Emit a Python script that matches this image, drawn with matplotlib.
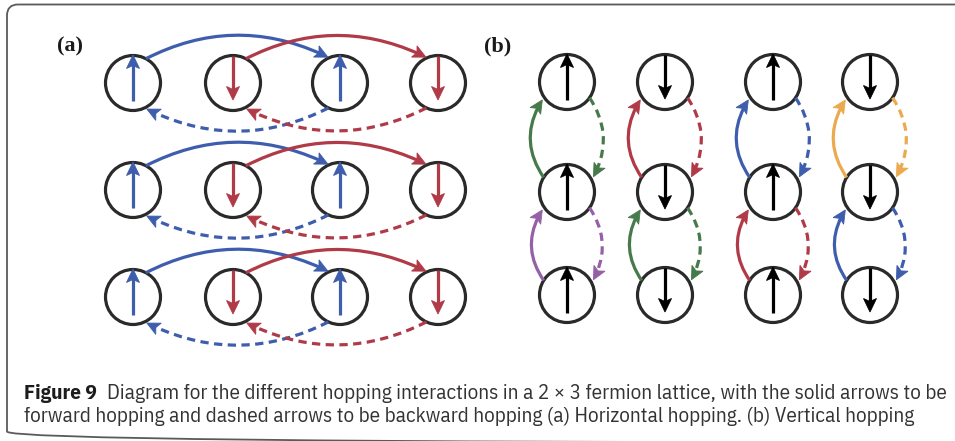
import matplotlib
matplotlib.use('Agg')
import matplotlib.pyplot as plt
from matplotlib.patches import Circle, FancyArrowPatch, FancyBboxPatch, Polygon
from matplotlib import font_manager
import numpy as np

# ---------------- data ----------------
panel_labels = ['(a)', '(b)']
# panel (a): 3 rows x 4 sites, spins per site
a_spins = [['up', 'down', 'up', 'down'],
           ['up', 'down', 'up', 'down'],
           ['up', 'down', 'up', 'down']]
a_forward = [(0, 2), (1, 3)]      # solid: source site -> target site
a_backward = [(2, 0), (3, 1)]     # dashed
# panel (b): 4 columns x 3 sites
b_spins = ['up', 'down', 'up', 'down']
b_pairs = [(0, 1), (1, 2)]        # (upper row, lower row)
b_pair_colors = [['green', 'purple'],
                 ['red', 'green'],
                 ['blue', 'red'],
                 ['orange', 'blue']]

caption_bold = "Figure 9"
caption_line1 = ("Diagram for the different hopping interactions in a 2 \u00d7 3 fermion lattice, "
                 "with the solid arrows to be")
caption_line2 = ("forward hopping and dashed arrows to be backward hopping (a) Horizontal hopping. "
                 "(b) Vertical hopping")

# ---------------- style / layout ----------------
COL = {'blue': '#3E5DAD', 'red': '#B03A47', 'green': '#477A4B',
       'purple': '#9460A6', 'orange': '#EBAA4D', 'black': '#000000'}
spin_color_a = {'up': 'blue', 'down': 'red'}
a_x = [133, 233, 340, 438]
a_y = [83, 190, 297]
b_x = [567, 665, 773, 870]
b_y = [82, 192, 295]
R = 27.5
LW = 2.3
PX = 0.72  # points per pixel at 100 dpi

W, H = 955, 441
fig = plt.figure(figsize=(W / 100, H / 100), dpi=100)
ax = fig.add_axes([0, 0, 1, 1])
ax.set_xlim(0, W)
ax.set_ylim(H, 0)
ax.axis('off')

# outer rounded frame
frame = FancyBboxPatch((7, 4.5), 990, 438, boxstyle='round,pad=0,rounding_size=11',
                       fc='none', ec='#5a5a5a', lw=1.3)
ax.add_patch(frame)


def pt(cx, cy, ang, r):
    a = np.deg2rad(ang)
    return (cx + r * np.cos(a), cy - r * np.sin(a))


def arrow_head(tip, direction, color, length=13, width=12.5, notch=3.0, z=5):
    d = np.asarray(direction, float)
    d = d / np.hypot(*d)
    n = np.array([-d[1], d[0]])
    tip = np.asarray(tip, float)
    back = tip - d * length
    poly = [tip, back + n * width / 2, tip - d * (length - notch), back - n * width / 2]
    ax.add_patch(Polygon(poly, closed=True, fc=color, ec=color, lw=0.6, zorder=z,
                         joinstyle='miter'))


def site(cx, cy, spin, color):
    ax.add_patch(Circle((cx, cy), R, fc='white', ec='#2a2a2a', lw=2.3, zorder=2))
    if spin == 'up':
        p0, p1 = np.array([cx, cy + 18]), np.array([cx, cy - R - 0.5])
    else:
        p0, p1 = np.array([cx, cy - R]), np.array([cx, cy + 17])
    d = p1 - p0
    d = d / np.hypot(*d)
    ax.plot([p0[0], p1[0] - d[0] * 8], [p0[1], p1[1] - d[1] * 8], color=color, lw=LW,
            solid_capstyle='butt', zorder=3)
    arrow_head(p1, d, color, length=13.5, width=13, notch=3.0, z=3)


def hop(p0, p1, rad, color, dashed):
    p0 = np.asarray(p0, float)
    p1 = np.asarray(p1, float)
    m = (p0 + p1) / 2
    dx, dy = p1 - p0
    # arc3 control point (display space has y flipped relative to data)
    c = np.array([m[0] - rad * dy, m[1] + rad * dx])
    ls = (0, (2.6, 1.7)) if dashed else '-'
    ax.add_patch(FancyArrowPatch(tuple(p0), tuple(p1), connectionstyle=f'arc3,rad={rad}',
                                 arrowstyle='-', color=color, lw=LW, linestyle=ls,
                                 shrinkA=0, shrinkB=8 * PX, zorder=4, capstyle='butt'))
    arrow_head(p1, p1 - c, color)


# ---- panel (a) ----
for ri, row in enumerate(a_spins):
    cy = a_y[ri]
    for ci, s in enumerate(row):
        site(a_x[ci], cy, s, COL[spin_color_a[s]])
    for (i, j) in a_forward:
        c = COL[spin_color_a[row[i]]]
        hop(pt(a_x[i], cy, 62, R), pt(a_x[j], cy, 115, R + 1), -0.25, c, False)
    for (i, j) in a_backward:
        c = COL[spin_color_a[row[i]]]
        hop(pt(a_x[i], cy, -115, R), pt(a_x[j], cy, -62, R + 2), -0.25, c, True)

# ---- panel (b) ----
for ci, s in enumerate(b_spins):
    cx = b_x[ci]
    for ri in range(3):
        site(cx, b_y[ri], s, COL['black'])
    for k, (up_r, lo_r) in enumerate(b_pairs):
        c = COL[b_pair_colors[ci][k]]
        hop(pt(cx, b_y[lo_r], 148, R), pt(cx, b_y[up_r], -144, R + 3), -0.33, c, False)
        hop(pt(cx, b_y[up_r], -35, R), pt(cx, b_y[lo_r], 30, R + 3), -0.30, c, True)

# panel labels
for lx, lab in zip([57, 484], panel_labels):
    ax.text(lx, 46, lab, fontsize=16, fontweight='bold', family='Liberation Serif',
            va='center', ha='left', color='#1a1a1a')


# ---- caption ----
def has_font(name):
    try:
        font_manager.findfont(font_manager.FontProperties(family=name), fallback_to_default=False)
        return True
    except Exception:
        return False


cap_font = next((f for f in ['IBM Plex Sans Condensed', 'Open Sans', 'DejaVu Sans'] if has_font(f)))
renderer = fig.canvas.get_renderer()

x0, x_end1 = 24, 948
base1, base2 = 399, 422


def width_of(txt, size, weight='normal'):
    t = ax.text(0, 0, txt, fontsize=size, family=cap_font, fontweight=weight)
    w = t.get_window_extent(renderer).width
    t.remove()
    return w


gap = 10
size = 12.0
for _ in range(3):
    wb = width_of(caption_bold, size, 'bold')
    w1 = width_of(caption_line1, size)
    size *= (x_end1 - x0 - gap) / (wb + w1)

wb = width_of(caption_bold, size, 'bold')
ax.text(x0, base1, caption_bold, fontsize=size, family=cap_font, fontweight='bold',
        va='baseline', ha='left', color='#1c1c1c')
ax.text(x0 + wb + gap, base1, caption_line1, fontsize=size, family=cap_font,
        va='baseline', ha='left', color='#333333')
ax.text(x0, base2, caption_line2, fontsize=size, family=cap_font,
        va='baseline', ha='left', color='#333333')

fig.savefig('out.png', dpi=100)
